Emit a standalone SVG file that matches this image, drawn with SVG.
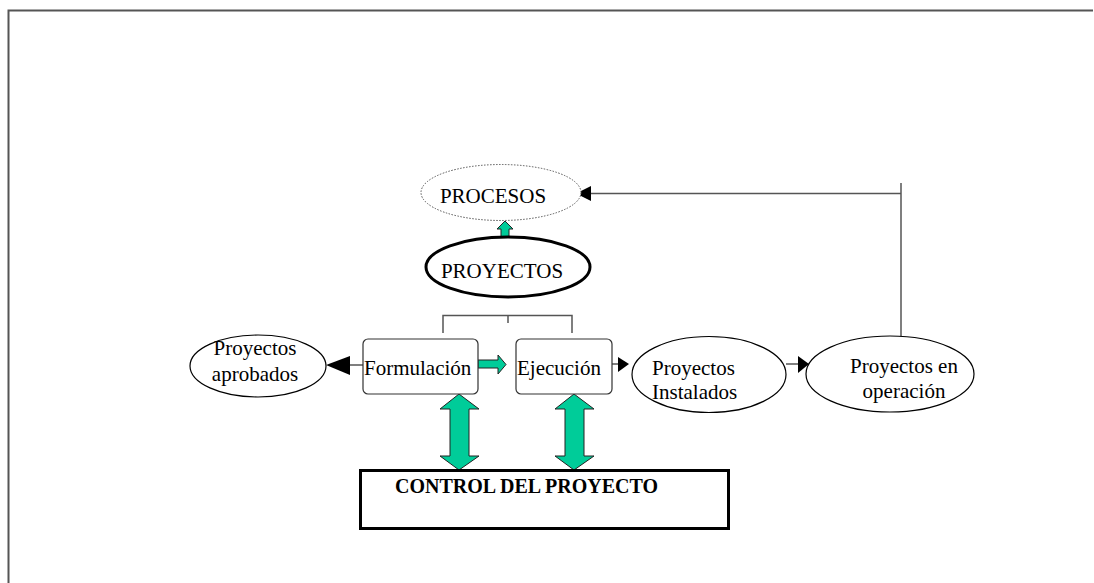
<svg xmlns="http://www.w3.org/2000/svg" width="1094" height="583" viewBox="0 0 1094 583">
<defs>
<style>
.t{font-family:"Liberation Serif","Times New Roman",serif;font-size:21px;fill:#000}
.tb{font-family:"Liberation Serif","Times New Roman",serif;font-size:20px;font-weight:bold;fill:#000}
.ln{stroke:#555;stroke-width:1.5;fill:none}
.el{fill:#fff;stroke:#000;stroke-width:1.2}
.box{fill:#fff;stroke:#333;stroke-width:1.2}
.grn{fill:#00CC99;stroke:#222;stroke-width:1}
.ah{fill:#000}
</style>
</defs>
<rect width="1094" height="583" fill="#fff"/>
<g id="frame">
<path d="M8.5,583 V10.5 H1093" stroke="#555" stroke-width="2" fill="none"/>
</g>
<g id="connectors">
<path class="ln" d="M443,333 V315.5 H572 V333 M508,315.5 V323"/>
<path class="ln" d="M363,365 H348"/>
<polygon class="ah" points="326,365 350,356 350,375"/>
<path class="ln" d="M612,364 H619"/>
<polygon class="ah" points="629,364 618,357 618,372"/>
<path class="ln" d="M786,364 H799"/>
<polygon class="ah" points="809,364 798,356 798,373"/>
<path class="ln" d="M901,336 V183 M901,193.5 H589"/>
<polygon class="ah" points="576,193.5 591,186 591,201"/>
<polygon class="grn" points="501,240 501,229 497,229 505,221 513,229 509,229 509,240"/>
<polygon class="grn" points="478,360 498,360 498,355 506,364.5 498,374 498,368 478,368"/>
<polygon class="grn" points="459,394 479,409 469,409 469,456 479,456 459,470 440,456 450,456 450,409 440,409"/>
<polygon class="grn" points="574,394 594,409 584,409 584,456 594,456 574,470 555,456 565,456 565,409 555,409"/>
</g>
<g id="procesos">
<ellipse cx="501" cy="192.5" rx="80" ry="28" fill="#fff" stroke="#555" stroke-width="1" stroke-dasharray="1.5,1.5"/>
<text class="t" x="493" y="203" text-anchor="middle">PROCESOS</text>
</g>
<g id="proyectos">
<ellipse cx="508" cy="267" rx="82" ry="30" fill="#fff" stroke="#000" stroke-width="3"/>
<text class="t" x="502" y="278" text-anchor="middle">PROYECTOS</text>
</g>
<g id="aprobados">
<ellipse class="el" cx="258" cy="366" rx="68" ry="31"/>
<text class="t" x="255" y="355" text-anchor="middle">Proyectos</text>
<text class="t" x="255" y="381" text-anchor="middle">aprobados</text>
</g>
<g id="formulacion">
<rect class="box" x="363" y="339" width="115" height="55" rx="5"/>
<text class="t" x="364" y="375">Formulación</text>
</g>
<g id="ejecucion">
<rect class="box" x="516" y="339" width="96" height="55" rx="5"/>
<text class="t" x="517" y="375">Ejecución</text>
</g>
<g id="instalados">
<ellipse class="el" cx="709" cy="374.5" rx="77" ry="38"/>
<text class="t" x="652" y="375">Proyectos</text>
<text class="t" x="652" y="399">Instalados</text>
</g>
<g id="operacion">
<ellipse class="el" cx="890" cy="374" rx="84" ry="38"/>
<text class="t" x="904" y="373" text-anchor="middle">Proyectos en</text>
<text class="t" x="904" y="398" text-anchor="middle">operación</text>
</g>
<g id="control">
<rect x="360.5" y="470.5" width="368" height="58" fill="#fff" stroke="#000" stroke-width="3"/>
<text class="tb" x="526.5" y="493" text-anchor="middle">CONTROL DEL PROYECTO</text>
</g>
</svg>
